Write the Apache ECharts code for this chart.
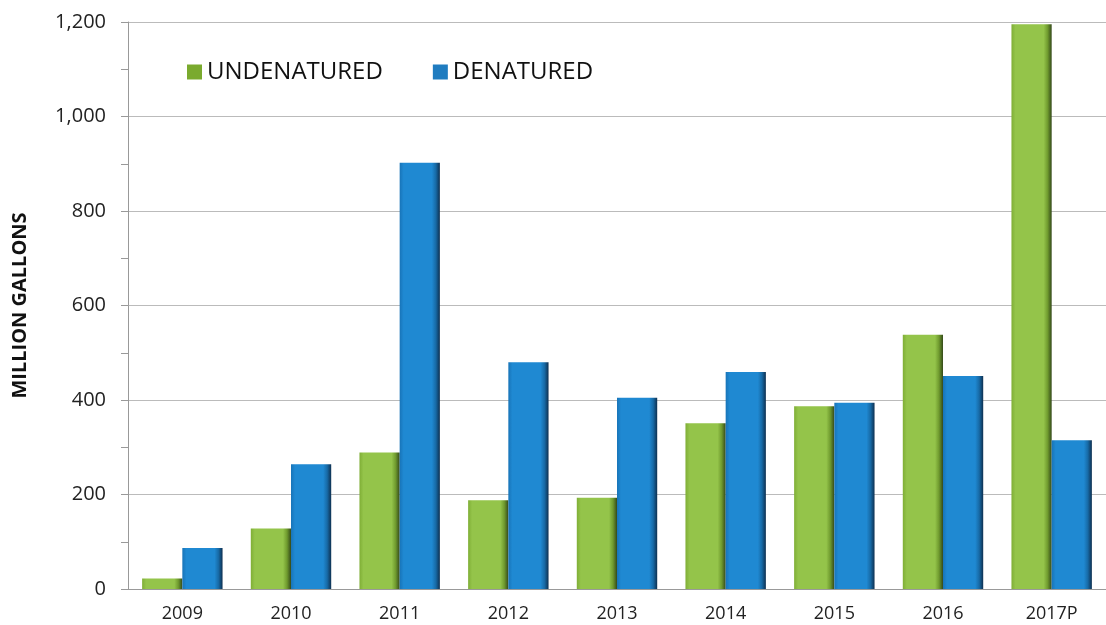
<!DOCTYPE html>
<html>
<head>
<meta charset="utf-8">
<script src="https://cdn.jsdelivr.net/npm/echarts@6/dist/echarts.min.js"></script>
<style>html,body{margin:0;padding:0;background:#fff}#c{width:1106px;height:625px}</style>
</head>
<body>
<div id="c"></div>
<script>
const categories = ['2009','2010','2011','2012','2013','2014','2015','2016','2017P'];
const undenatured = [22, 128, 289, 188, 193, 351, 387, 538, 1195];
const denatured = [87, 264, 902, 480, 405, 459, 394, 451, 315];
const yTicks = [0, 200, 400, 600, 800, 1000, 1200];

function grad(c0, c1, c2, c3) {
  return new echarts.graphic.LinearGradient(0, 0, 1, 0, [
    {offset: 0, color: c0}, {offset: 0.1, color: c1}, {offset: 0.8, color: c1},
    {offset: 0.9, color: c2}, {offset: 1, color: c3}
  ]);
}
const chart = echarts.init(document.getElementById('c'));
chart.setOption({
  animation: false,
  backgroundColor: '#fff',
  textStyle: {fontFamily: 'Open Sans'},
  grid: {left: 128, top: 22, height: 567, width: 987, containLabel: false},
  legend: {
    left: 182, top: 55, itemWidth: 15, itemHeight: 15, itemGap: 50,
    icon: 'rect',
    textStyle: {fontSize: 24, color: '#111', fontFamily: 'Open Sans'},
    data: [
      {name: 'UNDENATURED', itemStyle: {color: '#7aaa2e'}},
      {name: 'DENATURED', itemStyle: {color: '#1f7cc0'}}
    ]
  },
  xAxis: {
    type: 'category', data: categories,
    axisLine: {lineStyle: {color: '#999'}},
    axisTick: {show: false},
    axisLabel: {fontSize: 18, color: '#222', margin: 16}
  },
  yAxis: {
    type: 'value', min: yTicks[0], max: yTicks[yTicks.length - 1], interval: 200,
    name: 'MILLION GALLONS', nameLocation: 'middle', nameGap: 98, nameRotate: 90,
    nameTextStyle: {fontSize: 20, fontWeight: 'bold', color: '#111'},
    axisLine: {show: true, lineStyle: {color: '#999'}},
    axisTick: {show: true, length: 7, lineStyle: {color: '#999'}},
    minorTick: {show: true, splitNumber: 2, length: 7, lineStyle: {color: '#999'}},
    splitLine: {lineStyle: {color: '#bbb'}},
    axisLabel: {fontSize: 20, color: '#222', margin: 22,
      formatter: v => v.toLocaleString('en-US')}
  },
  series: [
    {name: 'UNDENATURED', type: 'bar', data: undenatured, barGap: '0%', barCategoryGap: '26%',
     itemStyle: {color: grad('#7fae36', '#94c44a', '#6f9a2e', '#34491a')}},
    {name: 'DENATURED', type: 'bar', data: denatured,
     itemStyle: {color: grad('#1874b8', '#1f89d2', '#176aa6', '#0e3050')}}
  ]
});
</script>
</body>
</html>
